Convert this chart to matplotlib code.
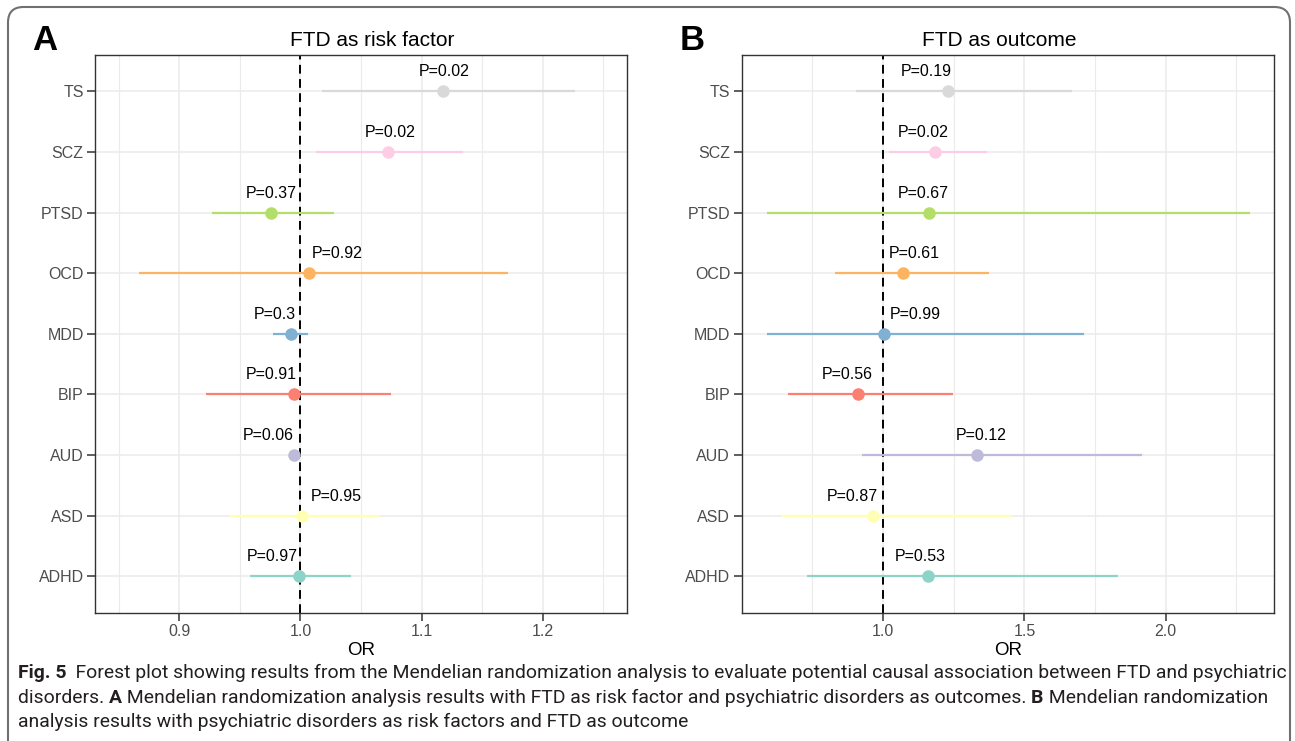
import matplotlib
matplotlib.use("Agg")
import matplotlib.pyplot as plt
from matplotlib.patches import FancyBboxPatch
from matplotlib.ticker import FixedLocator

plt.rcParams['font.family'] = ['Liberation Sans', 'DejaVu Sans']

# categories, bottom to top
traits = ["ADHD", "ASD", "AUD", "BIP", "MDD", "OCD", "PTSD", "SCZ", "TS"]
colors = ["#8DD3C7", "#FFFFB3", "#BEBADA", "#FB8072", "#80B1D3",
          "#FDB462", "#B3DE69", "#FCCDE5", "#D9D9D9"]

# A: FTD as risk factor
or_a = [0.999, 1.001, 0.995, 0.995, 0.992, 1.007, 0.976, 1.072, 1.118]
lo_a = [0.958, 0.941, 0.993, 0.922, 0.977, 0.867, 0.927, 1.013, 1.018]
hi_a = [1.042, 1.066, 0.997, 1.075, 1.006, 1.171, 1.028, 1.134, 1.227]
p_a = ["0.97", "0.95", "0.06", "0.91", "0.3", "0.92", "0.37", "0.02", "0.02"]

# B: FTD as outcome
or_b = [1.157, 0.965, 1.331, 0.910, 1.004, 1.069, 1.161, 1.182, 1.228]
lo_b = [0.732, 0.640, 0.926, 0.664, 0.589, 0.831, 0.589, 1.021, 0.904]
hi_b = [1.831, 1.456, 1.916, 1.246, 1.710, 1.374, 2.298, 1.369, 1.670]
p_b = ["0.53", "0.87", "0.12", "0.56", "0.99", "0.61", "0.67", "0.02", "0.19"]

# label nudges in pixels (to keep P text off the reference line)
nudge_a = [-27, 35, -26, -23, -16, 28, 0, 3, 1]
nudge_b = [-7, -21, 5, -10, 31, 12, -5, -11, -21]

W, H = 1295, 741
fig = plt.figure(figsize=(W / 100, H / 100), dpi=100)

# rounded frame around the figure
frame = FancyBboxPatch((8 / W, -0.05), (1290 - 8) / W, 1 + 0.05 - 7 / H,
                       boxstyle="round,pad=0,rounding_size=0.012",
                       mutation_aspect=W / H, transform=fig.transFigure,
                       fill=False, edgecolor="#707070", linewidth=1.5,
                       clip_on=False)
fig.patches.append(frame)

bottom = 1 - 612.5 / H
height = (612.5 - 55) / H
ax_a = fig.add_axes([95.5 / W, bottom, (627 - 95.5) / W, height])
ax_b = fig.add_axes([742 / W, bottom, (1274 - 742) / W, height])


def forest(ax, est, lo, hi, pvals, nudge, xlim, major, minor):
    ys = range(1, len(traits) + 1)
    ax.set_xlim(*xlim)
    ax.set_ylim(0.4, len(traits) + 0.6)
    ax.xaxis.set_major_locator(FixedLocator(major))
    ax.xaxis.set_minor_locator(FixedLocator(minor))
    ax.set_yticks(list(ys))
    ax.set_yticklabels(traits)
    ax.set_xticklabels(["%.1f" % v for v in major])
    ax.grid(True, which="major", color="#EBEBEB", linewidth=1.1)
    ax.grid(True, which="minor", axis="x", color="#EBEBEB", linewidth=0.8)
    ax.set_axisbelow(True)
    ax.axvline(1.0, color="black", linestyle=(0, (4.5, 2.8)), linewidth=1.4, zorder=2)
    for y, e, l, h, c, p, dx in zip(ys, est, lo, hi, colors, pvals, nudge):
        ax.plot([l, h], [y, y], color=c, linewidth=1.6, solid_capstyle="butt", zorder=3)
        ax.plot(e, y, "o", color=c, markersize=8, zorder=4)
        ax.annotate("P=" + p, (e, y), xytext=(dx * 0.72, 14),
                    textcoords="offset points", ha="center", va="center",
                    fontsize=11.5, color="black", zorder=5)
    for s in ax.spines.values():
        s.set_color("#333333")
        s.set_linewidth(1.0)
    ax.tick_params(which="major", length=5.5, width=1.1, color="#333333",
                   labelsize=11.5, labelcolor="#4D4D4D", pad=3)
    ax.tick_params(which="minor", length=0)
    ax.set_xlabel("OR", fontsize=13.5, labelpad=2)


forest(ax_a, or_a, lo_a, hi_a, p_a, nudge_a, (0.8307, 1.2697),
       [0.9, 1.0, 1.1, 1.2], [0.85, 0.95, 1.05, 1.15, 1.25])
forest(ax_b, or_b, lo_b, hi_b, p_b, nudge_b, (0.5006, 2.383),
       [1.0, 1.5, 2.0], [0.75, 1.25, 1.75, 2.25])

# panel titles and letters
fig.text(372 / W, 1 - 40 / H, "FTD as risk factor", ha="center", va="center", fontsize=15)
fig.text(999 / W, 1 - 40 / H, "FTD as outcome", ha="center", va="center", fontsize=15)
fig.text(45 / W, 1 - 40 / H, "A", ha="center", va="center", fontsize=25, weight="bold")
fig.text(692 / W, 1 - 40 / H, "B", ha="center", va="center", fontsize=25, weight="bold")

# caption, pieces with mixed weight
caption = [
    [("Fig. 5", "bold"), ("  Forest plot showing results from the Mendelian randomization analysis "
                          "to evaluate potential causal association between FTD and psychiatric", "normal")],
    [("disorders. ", "normal"), ("A", "bold"),
     (" Mendelian randomization analysis results with FTD as risk factor and psychiatric disorders "
      "as outcomes. ", "normal"), ("B", "bold"), (" Mendelian randomization", "normal")],
    [("analysis results with psychiatric disorders as risk factors and FTD as outcome", "normal")],
]
cap_y = [673, 698, 722]
cap_family = ["Roboto", "DejaVu Sans"]
fig.canvas.draw()
renderer = fig.canvas.get_renderer()


def draw_line(parts, y, size):
    x = 18 / W
    made = []
    for s, wt in parts:
        t = fig.text(x, 1 - y / H, s, ha="left", va="center", fontsize=size,
                     weight=wt, color="#231F20", family=cap_family)
        made.append(t)
        x = t.get_window_extent(renderer).x1 / W
    return made, x * W


# size the caption so the first line spans the frame width like the reference
trial, end = draw_line(caption[0], cap_y[0], 12)
for t in trial:
    t.remove()
cap_size = 12 * (1282 - 18) / (end - 18)
for line, y in zip(caption, cap_y):
    draw_line(line, y, cap_size)

fig.savefig("out.png", dpi=100)
